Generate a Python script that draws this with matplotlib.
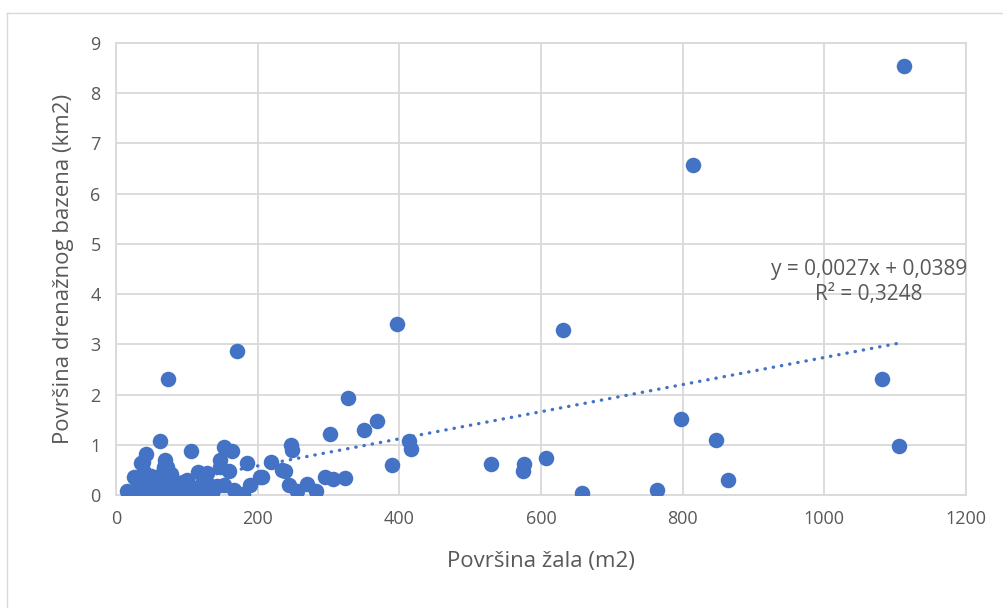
import matplotlib
matplotlib.use("Agg")
import matplotlib.pyplot as plt
import numpy as np

# Data
area_beach = [1112, 814, 1082, 1106, 797, 847, 864, 764, 397, 631, 327, 369, 350, 413, 417,
              390, 529, 576, 575, 607, 658, 74, 171, 302, 62, 106, 152, 164, 247, 248,
              42, 35, 69, 147, 185, 159, 219, 238, 206, 295, 306, 323, 244, 255, 270, 282,
              25, 15, 116, 128, 142, 166, 180, 189, 100, 204, 234, 152, 147,
              28, 33, 36, 38, 40, 44, 46, 48, 50, 52, 55, 57, 60, 64, 66, 68, 70, 72,
              74, 76, 78, 80, 82, 85, 88, 90, 95, 98, 105, 110, 118, 122, 132, 136]
area_basin = [8.55, 6.57, 2.31, 0.98, 1.52, 1.10, 0.29, 0.09, 3.41, 3.29, 1.94, 1.47, 1.29, 1.07, 0.92,
              0.60, 0.61, 0.61, 0.48, 0.74, 0.03, 2.30, 2.87, 1.22, 1.08, 0.88, 0.96, 0.88, 0.99, 0.90,
              0.82, 0.64, 0.70, 0.70, 0.64, 0.48, 0.66, 0.48, 0.36, 0.36, 0.31, 0.34, 0.19, 0.07, 0.21, 0.07,
              0.36, 0.07, 0.46, 0.43, 0.17, 0.10, 0.02, 0.20, 0.30, 0.36, 0.50, 0.20, 0.56,
              0.12, 0.22, 0.03, 0.66, 0.45, 0.30, 0.15, 0.05, 0.38, 0.22, 0.10, 0.02, 0.28, 0.15, 0.45, 0.55, 0.05, 0.55,
              0.35, 0.20, 0.42, 0.10, 0.28, 0.03, 0.18, 0.08, 0.25, 0.05, 0.12, 0.04, 0.18, 0.08, 0.20, 0.03]

slope = 0.0027
intercept = 0.0389
r2 = 0.3248

x_ticks = [0, 200, 400, 600, 800, 1000, 1200]
y_ticks = list(range(0, 10))

blue = "#4472C4"
grid_c = "#d9d9d9"
text_c = "#595959"

plt.rcParams['font.family'] = ['Open Sans', 'DejaVu Sans']

fig = plt.figure(figsize=(10.04, 6.08), dpi=100)
ax = fig.add_axes([116/1004, 1-495/608, (966-116)/1004, (495-43)/608])

ax.scatter(area_beach, area_basin, s=125, color=blue, linewidths=0, zorder=3)

xs = np.array([min(area_beach), max(area_beach)])
ax.plot(xs, slope*xs + intercept, color=blue, lw=2.4, linestyle=(0, (0.1, 2.4)),
        dash_capstyle='round', zorder=4)

ax.set_xlim(0, 1200)
ax.set_ylim(0, 9)
ax.set_xticks(x_ticks)
ax.set_yticks(y_ticks)
ax.tick_params(length=0, labelsize=13, labelcolor=text_c, pad=11)
ax.grid(True, color=grid_c, lw=1.3, zorder=0)
ax.set_axisbelow(True)
for sp in ax.spines.values():
    sp.set_color(grid_c)
    sp.set_linewidth(1.3)

ax.set_xlabel("Površina žala (m2)", fontsize=16, color=text_c, labelpad=16)
ax.set_ylabel("Površina drenažnog bazena (km2)", fontsize=16, color=text_c, labelpad=12)

ax.text(1063, 4.25, "y = 0,0027x + 0,0389\nR² = 0,3248", ha='center', va='center',
        multialignment='center', fontsize=15, color=text_c, linespacing=1.25, zorder=5)

# outer chart border
fig.add_artist(plt.Line2D([7/1004, 7/1004], [0, 1-13/608], color=grid_c, lw=1.0, transform=fig.transFigure))
fig.add_artist(plt.Line2D([7/1004, 1], [1-13/608, 1-13/608], color=grid_c, lw=1.0, transform=fig.transFigure))

fig.savefig("out.png", dpi=100)
